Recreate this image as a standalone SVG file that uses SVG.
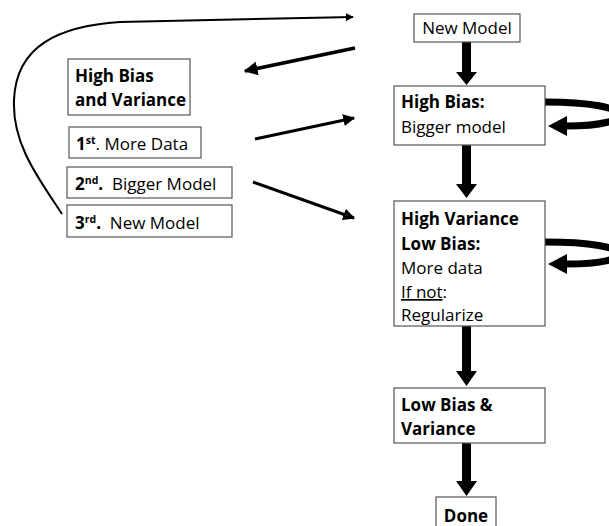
<svg xmlns="http://www.w3.org/2000/svg" width="609" height="526" viewBox="0 0 609 526">
<defs>
<style>
.box{fill:#fff;stroke:#555;stroke-width:1.2}
.t{font-family:"Open Sans","Liberation Sans",sans-serif;font-size:17px;fill:#000;white-space:pre}
.b{font-weight:bold}
.sup{font-size:10.5px;font-weight:bold}
.ln{fill:none;stroke:#000}
.big{fill:#000}
</style>
<marker id="ah" viewBox="0 0 10 10" refX="9" refY="5" markerWidth="4" markerHeight="4" orient="auto" markerUnits="strokeWidth">
<path d="M0,0 L10,5 L0,10 Z" fill="#000"/>
</marker>
</defs>
<rect width="609" height="526" fill="#fff"/>
<g id="connectors">
<path class="ln" stroke-width="2" d="M62,214 C40,180 12,145 14,100 C16,45 60,26 120,22 L353,17" marker-end="url(#ah)"/>
<path class="ln" stroke-width="3.5" d="M355,48 L245,71" marker-end="url(#ah)"/>
<path class="ln" stroke-width="3" d="M255,139 L354,118" marker-end="url(#ah)"/>
<path class="ln" stroke-width="3" d="M253,182 L354,218" marker-end="url(#ah)"/>
<path class="big" d="M462,42 H471 V72 H477 L466.5,85 L456,72 H462 Z"/>
<path class="big" d="M462,145 H471 V184 H477 L466.5,198 L456,184 H462 Z"/>
<path class="big" d="M462,326 H471 V371 H477 L466.5,386 L456,371 H462 Z"/>
<path class="big" d="M462,443 H471 V481 H477 L466.5,496 L456,481 H462 Z"/>
<path class="ln" stroke-width="7" d="M545,102 C640,102 640,126 566,126"/>
<path class="big" d="M548,126 L567,116 L567,136 Z"/>
<path class="ln" stroke-width="7" d="M545,242 C640,242 640,264 566,264"/>
<path class="big" d="M548,264 L567,254 L567,274 Z"/>
</g>
<g id="new-model">
<rect class="box" x="414" y="14" width="106" height="28"/>
<text class="t" x="467" y="34" text-anchor="middle">New Model</text>
</g>
<g id="high-bias">
<rect class="box" x="394" y="86" width="151" height="59"/>
<text class="t b" x="401" y="108">High Bias:</text>
<text class="t" x="401" y="133">Bigger model</text>
</g>
<g id="high-variance">
<rect class="box" x="394" y="201" width="151" height="125"/>
<text class="t b" x="401" y="225">High Variance</text>
<text class="t b" x="401" y="250">Low Bias:</text>
<text class="t" x="401" y="274">More data</text>
<text class="t" x="401" y="298"><tspan text-decoration="underline">If not</tspan>:</text>
<text class="t" x="401" y="321">Regularize</text>
</g>
<g id="low-bias-variance">
<rect class="box" x="394" y="388" width="151" height="55"/>
<text class="t b" x="401" y="411">Low Bias &amp;</text>
<text class="t b" x="401" y="435">Variance</text>
</g>
<g id="done">
<rect class="box" x="436" y="497" width="60" height="34"/>
<text class="t b" x="466" y="522" text-anchor="middle">Done</text>
</g>
<g id="high-bias-and-variance">
<rect class="box" x="68" y="59" width="122" height="56"/>
<text class="t b" x="75" y="82">High Bias</text>
<text class="t b" x="75" y="106">and Variance</text>
</g>
<g id="more-data">
<rect class="box" x="69" y="127" width="132" height="31"/>
<text class="t" x="76" y="150"><tspan class="b">1</tspan><tspan class="sup" dy="-6">st</tspan><tspan dy="6">. More Data</tspan></text>
</g>
<g id="bigger-model">
<rect class="box" x="67" y="167" width="165" height="31"/>
<text class="t" x="75" y="190"><tspan class="b">2</tspan><tspan class="sup" dy="-6">nd</tspan><tspan class="b" dy="6">.</tspan><tspan>  Bigger Model</tspan></text>
</g>
<g id="new-model-3">
<rect class="box" x="67" y="205" width="165" height="32"/>
<text class="t" x="75" y="229"><tspan class="b">3</tspan><tspan class="sup" dy="-6">rd</tspan><tspan class="b" dy="6">.</tspan><tspan>  New Model</tspan></text>
</g>
</svg>
